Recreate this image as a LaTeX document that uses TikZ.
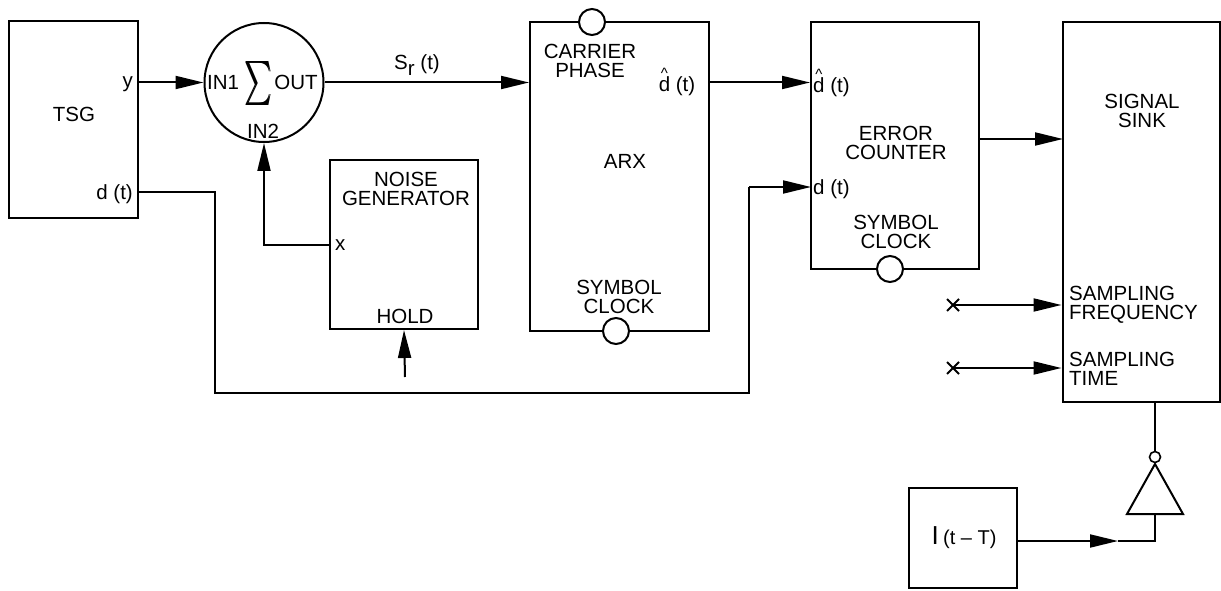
\documentclass[tikz,border=0pt]{standalone}
\usepackage{fontspec}
\setmainfont{Liberation Sans}
\usetikzlibrary{arrows.meta}
\newcommand{\dhat}{\makebox[0pt][l]{\raisebox{13.5pt}{\kern2.2pt\fontsize{15}{15}\selectfont\^{}}}d}
\tikzset{
  ln/.style={line width=2pt},
  blk/.style={draw, line width=2pt, rectangle, inner sep=0pt},
  arr/.style={line width=2pt, -{Triangle[length=28pt,width=13pt]}},
  bub/.style={draw, line width=2pt, circle, fill=white, minimum size=26pt, inner sep=0pt},
  txt/.style={inner sep=0pt, align=center, font=\fontsize{20.5}{19.5}\selectfont},
}
\begin{document}
\begin{tikzpicture}[x=1pt,y=-1pt]
\useasboundingbox (0,0) rectangle (1221,591);
% blocks
\node[blk, minimum width=129pt, minimum height=197pt] (tsg) at (73.5,119.5) {};
\node[draw, line width=2pt, circle, minimum size=119pt, inner sep=0pt] (sum) at (264,82.5) {};
\node[blk, minimum width=148pt, minimum height=169pt] (noise) at (404,244.5) {};
\node[blk, minimum width=179pt, minimum height=309pt] (arx) at (619.5,176.5) {};
\node[blk, minimum width=168pt, minimum height=247pt] (ec) at (895,145.5) {};
\node[blk, minimum width=157pt, minimum height=380pt] (sink) at (1141,212) {};
\node[blk, minimum width=108pt, minimum height=100pt] (ibox) at (963,538) {};
% bubbles
\node[bub] (arxcp) at (592,22) {};
\node[bub] (arxsc) at (616,331) {};
\node[bub] (ecsc) at (890,269) {};
% texts
\node[txt] (tsgl) at (74,114) {TSG};
\node[txt, anchor=base east] (yl) at (133,88) {y};
\node[txt, anchor=base east] (dtl) at (133,199) {d (t)};
\node[txt, anchor=base] (in1) at (223,90) {IN1};
\node[inner sep=0pt] (sig) at (258,84) {\resizebox{27pt}{33pt}{$\textstyle\sum$}};
\node[inner sep=0pt] (sigb) at (258.7,84) {\resizebox{27pt}{33pt}{$\textstyle\sum$}};
\node[txt, anchor=base] (outl) at (296,90) {OUT};
\node[txt] (in2) at (263,131) {IN2};
\node[txt] (noisel) at (406,189) {NOISE\\GENERATOR};
\node[txt] (holdl) at (405,316) {HOLD};
\node[txt, anchor=west] (xl) at (335,245) {x};
\node[txt, anchor=base] (srl) at (417,70) {S\raisebox{-6pt}{r} (t)};
\node[txt] (cpl) at (590,61) {CARRIER\\PHASE};
\node[txt, anchor=base] (dhat1) at (677,92) {\dhat{} (t)};
\node[txt] (arxl) at (625,161) {ARX};
\node[txt] (scl1) at (619,297) {SYMBOL\\CLOCK};
\node[txt, anchor=base west] (dhat2) at (813,93) {\dhat{} (t)};
\node[txt] (ecl) at (896,143) {ERROR\\COUNTER};
\node[txt, anchor=base west] (dtl2) at (813,194) {d (t)};
\node[txt] (scl2) at (896,232) {SYMBOL\\CLOCK};
\node[txt] (sinkl) at (1142,111) {SIGNAL\\SINK};
\node[txt, anchor=west, align=left] (sfl) at (1069,305) {SAMPLING\\FREQUENCY};
\node[txt, anchor=west, align=left] (stl) at (1069,369) {SAMPLING\\TIME};
\node[inner sep=0pt, anchor=base] (il) at (964,544) {\fontsize{26}{26}\selectfont I\,\fontsize{20}{20}\selectfont(t -- T)};
% buffer triangle
\coordinate (tapex) at (1155,464);
\coordinate (tbl) at (1127,514);
\coordinate (tbr) at (1183,514);
\coordinate (tbase) at (1155,514);
\draw[ln, line join=miter] (tapex) -- (tbl) -- (tbr) -- cycle;
\node[draw, line width=1.6pt, circle, minimum size=11pt, inner sep=0pt, fill=white] (nbub) at (1155,457) {};
% port coordinates
\coordinate (dtout) at (138,192);
\coordinate (dtc1) at (215,192);
\coordinate (dtc2) at (215,393);
\coordinate (dtc3) at (749,393);
\coordinate (dtc4) at (749,187);
\coordinate (ecdt) at (811,187);
\coordinate (ecout) at (979,139);
\coordinate (sinkin) at (1063,139);
\coordinate (holdin) at (405,377);
\coordinate (xf) at (953,305);
\coordinate (xt) at (953,368);
\coordinate (ibend) at (1155,541);
\coordinate (itip) at (1118,541);
% connectors
\draw[arr] (tsg.east |- sum.west) -- (sum.west);
\draw[arr] (sum.east) -- (arx.west |- sum.east);
\draw[arr] (arx.east |- sum.east) -- (ec.west |- sum.east);
\draw[arr] (noise.west) -| (sum.south);
\draw[arr] (holdin) -- (noise.south);
\draw[ln, line join=miter] (dtout) -- (dtc1) -- (dtc2) -- (dtc3) -- (dtc4);
\draw[arr] (dtc4) -- (ecdt);
\draw[arr] (ecout) -- (sinkin);
\draw[arr] (xf) -- (sink.west |- xf);
\draw[arr] (xt) -- (sink.west |- xt);
\draw[ln] (xf) +(-6,-6) -- +(6,6) (xf) +(-6,6) -- +(6,-6);
\draw[ln] (xt) +(-6,-6) -- +(6,6) (xt) +(-6,6) -- +(6,-6);
\draw[ln] (sink.south -| nbub) -- (nbub.north);
\draw[ln, line join=miter] (tbase) -- (ibend) -- (itip);
\draw[arr] (ibox.east |- itip) -- (itip);
\end{tikzpicture}
\end{document}
